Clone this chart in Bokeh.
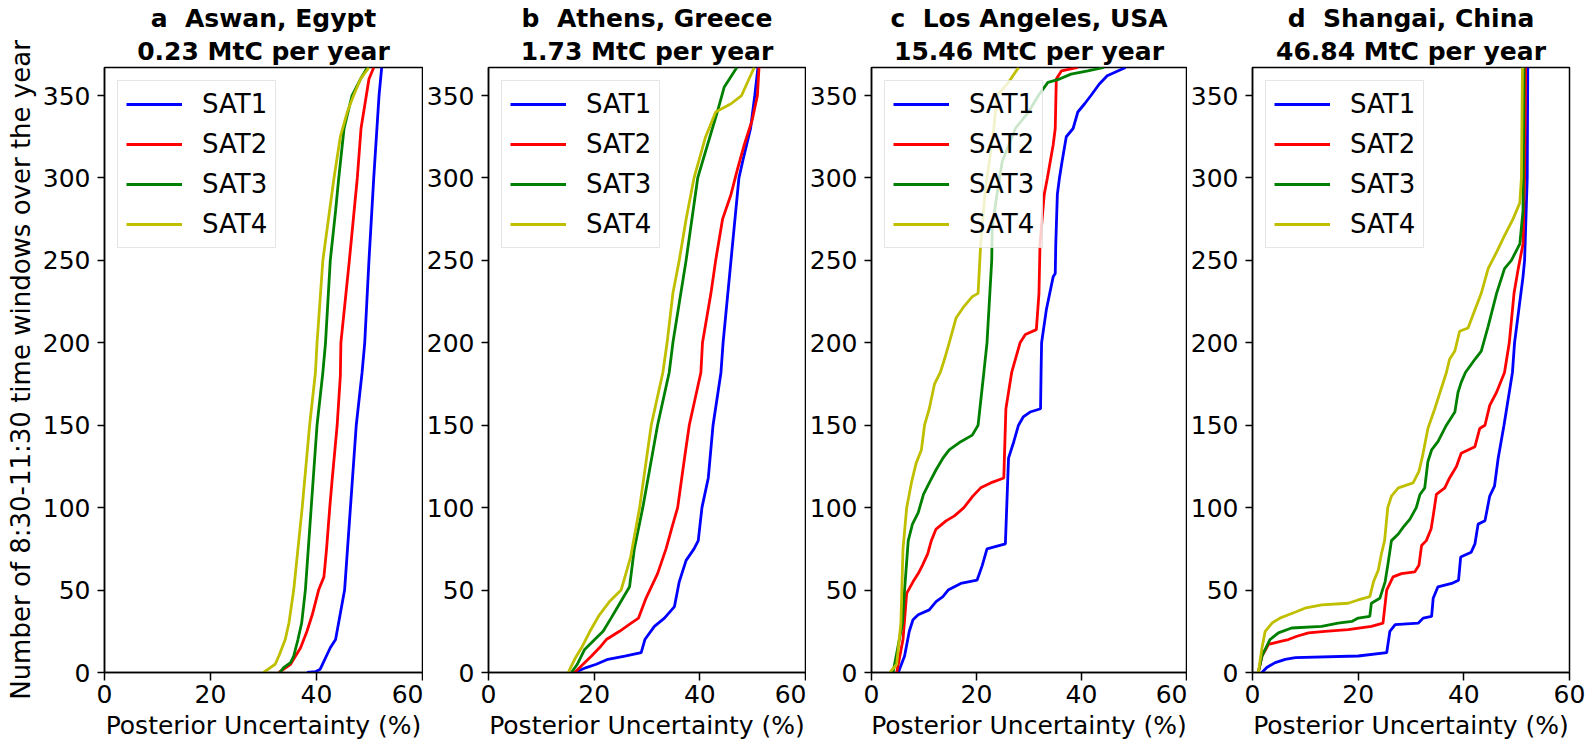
from bokeh.plotting import figure
from bokeh.layouts import row
from bokeh.models import FixedTicker, Title, Range1d
from bokeh.embed import file_html
from bokeh.resources import INLINE

# ---------------- data ----------------
panel_letters = ["a", "b", "c", "d"]
city_names = ["Aswan, Egypt", "Athens, Greece", "Los Angeles, USA", "Shangai, China"]
emission_rates = ["0.23", "1.73", "15.46", "46.84"]
series_names = ["SAT1", "SAT2", "SAT3", "SAT4"]
series_colors = ["#0000ff", "#ff0000", "#008000", "#bfbf00"]
x_ticks = [0, 20, 40, 60]
y_ticks = [0, 50, 100, 150, 200, 250, 300, 350]
x_label = "Posterior Uncertainty (%)"
y_label = "Number of 8:30-11:30 time windows over the year"

# a  Aswan
aswan_sat1_x = [38.2, 39.8, 40.7, 42.6, 43.6, 45.3, 46.4, 47.5, 48.6, 49.1, 49.9, 50.8, 51.8, 52.3]
aswan_sat1_y = [0, 0.5, 2, 15, 20, 50, 100, 150, 182, 200, 250, 300, 350, 367]
aswan_sat2_x = [32.9, 35.1, 37.0, 38.2, 39.2, 40.4, 41.4, 41.9, 42.5, 42.9, 43.9, 44.5, 44.6, 46.2, 47.7, 48.4, 49.4, 49.9, 50.8]
aswan_sat2_y = [0, 5, 15, 25, 35, 50, 58, 75, 100, 115, 150, 180, 200, 250, 300, 330, 350, 360, 367]
aswan_sat3_x = [33.1, 33.8, 35.1, 35.7, 36.5, 37.2, 37.9, 39.0, 40.1, 41.2, 41.7, 42.6, 43.6, 44.2, 45.2, 46.7, 48.3, 49.6]
aswan_sat3_y = [0, 3, 6, 10, 20, 30, 50, 100, 150, 182, 200, 250, 280, 300, 330, 350, 360, 367]
aswan_sat4_x = [30.0, 31.3, 32.2, 32.9, 34.1, 34.8, 35.7, 37.3, 38.7, 39.8, 40.1, 41.2, 43.3, 44.5, 45.8, 47.0, 48.3, 49.9]
aswan_sat4_y = [0, 3, 5, 10, 20, 30, 50, 100, 150, 182, 200, 250, 300, 325, 340, 350, 360, 367]

# b  Athens
athens_sat1_x = [16.3, 18.5, 20.4, 22.6, 25.8, 28.9, 29.6, 31.4, 33.3, 35.2, 36.1, 37.4, 38.9, 39.7, 40.4, 41.6, 42.5, 44.0, 44.4, 45.9, 47.4, 48.1, 49.6, 50.4, 51.0]
athens_sat1_y = [0, 3, 5, 8, 10, 12, 20, 28, 33, 40, 55, 68, 75, 80, 100, 118, 150, 182, 200, 250, 300, 310, 330, 350, 367]
athens_sat2_x = [16.3, 17.9, 19.5, 21.0, 22.3, 24.8, 27.0, 28.4, 29.8, 32.0, 33.6, 34.9, 35.8, 37.1, 38.0, 40.2, 40.5, 42.1, 43.0, 44.3, 45.9, 47.1, 48.4, 49.9, 50.9, 51.2]
athens_sat2_y = [0, 5, 10, 15, 20, 25, 30, 33, 45, 60, 75, 90, 100, 130, 150, 182, 200, 230, 250, 275, 290, 305, 320, 335, 350, 367]
athens_sat3_x = [15.7, 16.8, 18.2, 20.1, 21.7, 23.2, 24.5, 26.7, 27.6, 29.2, 32.0, 34.2, 34.9, 37.4, 39.6, 43.3, 44.6, 47.0]
athens_sat3_y = [0, 5, 14, 20, 25, 33, 40, 52, 75, 100, 150, 182, 200, 250, 300, 340, 355, 367]
athens_sat4_x = [15.1, 16.3, 17.6, 19.2, 21.0, 22.9, 25.1, 26.9, 28.6, 30.8, 33.0, 33.8, 34.9, 36.1, 37.4, 38.9, 41.1, 43.0, 45.9, 47.9, 49.3, 50.3]
athens_sat4_y = [0, 8, 15, 25, 35, 43, 50, 70, 100, 150, 182, 200, 230, 250, 275, 300, 325, 340, 345, 350, 360, 367]

# c  Los Angeles
la_sat1_x = [5.1, 6.3, 7.2, 7.9, 8.9, 11.0, 12.3, 13.6, 14.6, 17.0, 20.1, 21.1, 22.0, 25.5, 26.1, 27.1, 28.0, 28.9, 30.2, 32.2, 32.3, 32.4, 33.3, 34.6, 35.0, 35.1, 35.4, 35.8, 36.3, 37.1, 38.4, 39.3, 40.6, 41.8, 43.4, 44.9, 48.4]
la_sat1_y = [0, 10, 25, 32, 35, 38, 43, 46, 50, 54, 56, 65, 75, 78, 130, 140, 150, 155, 158, 160, 182, 200, 220, 240, 242, 260, 290, 300, 310, 325, 330, 340, 345, 350, 357, 362, 367]
la_sat2_x = [4.8, 6.0, 6.7, 7.9, 8.9, 9.7, 10.7, 11.4, 12.3, 14.2, 15.8, 17.6, 19.3, 20.8, 22.7, 25.2, 25.6, 26.1, 26.7, 27.4, 28.3, 29.3, 31.4, 31.9, 32.1, 32.9, 33.5, 34.6, 35.0, 35.2, 36.2, 39.3]
la_sat2_y = [0, 20, 48, 55, 60, 65, 72, 80, 87, 92, 95, 100, 107, 112, 115, 118, 160, 170, 182, 190, 200, 205, 208, 230, 260, 290, 300, 320, 330, 360, 365, 367]
la_sat3_x = [4.1, 5.9, 6.3, 7.0, 7.8, 8.9, 9.9, 11.0, 12.3, 13.6, 14.8, 17.0, 19.2, 20.3, 21.4, 22.0, 22.9, 23.0, 23.9, 24.9, 27.4, 29.9, 31.8, 33.6, 35.8, 38.0, 41.2, 44.3]
la_sat3_y = [0, 30, 50, 80, 90, 97, 108, 115, 123, 130, 135, 140, 144, 150, 182, 200, 250, 270, 290, 310, 330, 340, 350, 358, 360, 363, 365, 367]
la_sat4_x = [3.5, 4.8, 5.6, 6.0, 6.7, 7.6, 8.5, 9.5, 10.1, 11.0, 12.0, 13.1, 13.9, 14.8, 16.1, 17.6, 19.2, 20.3, 20.8, 21.6, 22.0, 23.3, 23.9, 26.1, 28.0]
la_sat4_y = [0, 5, 30, 75, 100, 115, 127, 135, 150, 160, 175, 182, 190, 200, 215, 222, 228, 230, 260, 290, 300, 330, 350, 358, 367]

# d  Shanghai
sh_sat1_x = [1.8, 2.7, 4.3, 6.2, 8.1, 20.0, 25.4, 26.0, 27.0, 31.4, 32.3, 33.9, 34.2, 35.1, 37.7, 39.0, 39.4, 41.4, 42.1, 42.7, 44.0, 44.9, 45.8, 46.5, 47.6, 49.2, 49.6, 50.4, 51.2, 51.5, 52.0, 52.1]
sh_sat1_y = [0, 3, 6, 8, 9, 10, 12, 25, 29, 30, 33, 34, 45, 52, 54, 56, 70, 73, 78, 90, 92, 107, 113, 130, 150, 182, 200, 220, 240, 250, 300, 367]
sh_sat2_x = [1.1, 1.8, 3.0, 5.5, 6.8, 8.4, 10.6, 13.7, 18.1, 22.5, 24.7, 25.4, 26.6, 28.2, 30.7, 31.5, 32.0, 32.9, 33.8, 34.2, 34.8, 36.4, 37.3, 38.6, 39.5, 42.1, 43.0, 44.0, 44.9, 46.2, 47.7, 48.6, 49.5, 50.3, 51.2, 51.5, 51.7]
sh_sat2_y = [0, 10, 17, 19, 20, 22, 24, 25, 26, 28, 30, 50, 58, 60, 61, 65, 77, 80, 87, 95, 108, 112, 118, 125, 133, 137, 148, 150, 162, 170, 182, 200, 230, 245, 260, 300, 367]
sh_sat3_x = [1.1, 1.8, 3.3, 4.9, 7.4, 13.1, 16.2, 18.8, 20.0, 22.2, 22.5, 24.1, 25.1, 25.6, 26.3, 27.6, 28.5, 29.8, 31.0, 31.7, 32.6, 33.2, 33.9, 35.1, 36.7, 38.3, 38.9, 39.5, 40.3, 42.1, 43.3, 44.6, 46.2, 47.7, 49.0, 50.6, 51.2, 51.4]
sh_sat3_y = [0, 10, 20, 24, 27, 28, 30, 31, 33, 34, 42, 45, 55, 65, 80, 84, 88, 93, 100, 108, 112, 128, 135, 140, 150, 158, 170, 176, 182, 190, 195, 210, 230, 245, 250, 260, 280, 367]
sh_sat4_x = [1.1, 1.8, 2.4, 3.7, 5.2, 6.8, 8.4, 9.9, 13.1, 18.1, 20.0, 22.2, 22.9, 23.8, 24.4, 25.0, 25.6, 26.3, 27.6, 30.4, 31.5, 32.1, 33.2, 34.5, 35.5, 36.7, 37.3, 38.3, 39.2, 40.8, 42.1, 43.3, 44.6, 46.2, 47.7, 49.3, 50.6, 50.9, 51.1]
sh_sat4_y = [0, 15, 25, 30, 33, 35, 37, 39, 41, 42, 44, 46, 55, 62, 72, 80, 100, 107, 112, 115, 122, 130, 148, 160, 170, 182, 190, 195, 207, 209, 220, 230, 245, 255, 265, 275, 285, 300, 367]

panel_curves = [
    [(aswan_sat1_x, aswan_sat1_y), (aswan_sat2_x, aswan_sat2_y), (aswan_sat3_x, aswan_sat3_y), (aswan_sat4_x, aswan_sat4_y)],
    [(athens_sat1_x, athens_sat1_y), (athens_sat2_x, athens_sat2_y), (athens_sat3_x, athens_sat3_y), (athens_sat4_x, athens_sat4_y)],
    [(la_sat1_x, la_sat1_y), (la_sat2_x, la_sat2_y), (la_sat3_x, la_sat3_y), (la_sat4_x, la_sat4_y)],
    [(sh_sat1_x, sh_sat1_y), (sh_sat2_x, sh_sat2_y), (sh_sat3_x, sh_sat3_y), (sh_sat4_x, sh_sat4_y)],
]

# ---------------- layout ----------------
FONT = "DejaVu Sans"
FRAME_W = 318
FRAME_H = 605
TOP = 67
BOTTOM = 80
left_borders = [104, 64, 62, 64]
right_borders = [1, 1, 1, 16]

panels = []
for i in range(4):
    lb, rb = left_borders[i], right_borders[i]
    p = figure(width=lb + FRAME_W + rb, height=TOP + FRAME_H + BOTTOM,
               output_backend="svg", toolbar_location=None, title=None,
               x_range=Range1d(0, 60), y_range=Range1d(0, 367),
               min_border_left=lb, min_border_right=rb,
               min_border_top=TOP, min_border_bottom=BOTTOM)
    p.background_fill_color = "white"
    p.border_fill_color = "white"
    p.outline_line_color = "black"
    p.outline_line_width = 1.5
    p.grid.visible = False

    # second title line first (closest to the frame), then the first line above it
    t2 = Title(text=f"{emission_rates[i]} MtC per year", align="center",
               text_font=FONT, text_font_size="25px", text_font_style="bold",
               text_color="black", standoff=4)
    p.add_layout(t2, "above")
    t1 = Title(text=f"{panel_letters[i]}\u00a0\u00a0{city_names[i]}", align="center",
               text_font=FONT, text_font_size="25px", text_font_style="bold",
               text_color="black", standoff=0)
    p.add_layout(t1, "above")

    for (xs, ys), name, col in zip(panel_curves[i], series_names, series_colors):
        p.line(xs, ys, line_color=col, line_width=2.8, legend_label=name)

    for ax in (p.xaxis[0], p.yaxis[0]):
        ax.axis_line_color = "black"
        ax.axis_line_width = 1.5
        ax.major_tick_line_color = "black"
        ax.major_tick_line_width = 1.5
        ax.major_tick_in = 0
        ax.minor_tick_line_color = None
        ax.major_label_text_font = FONT
        ax.major_label_text_font_size = "25px"
        ax.major_label_text_color = "black"
        ax.axis_label_text_font = FONT
        ax.axis_label_text_font_style = "normal"
        ax.axis_label_text_color = "black"
    p.xaxis.ticker = FixedTicker(ticks=x_ticks)
    p.yaxis.ticker = FixedTicker(ticks=y_ticks)
    p.xaxis.major_tick_out = 8
    p.yaxis.major_tick_out = 7
    p.xaxis.major_label_standoff = 4
    p.yaxis.major_label_standoff = 7
    p.xaxis.axis_label = x_label
    p.xaxis.axis_label_text_font_size = "25px"
    p.xaxis.axis_label_standoff = 5
    if i == 0:
        p.yaxis.axis_label = y_label
        p.yaxis.axis_label_text_font_size = "26px"
        p.yaxis.axis_label_standoff = 4

    lg = p.legend[0]
    lg.location = "top_left"
    lg.margin = 13
    lg.padding = 8
    lg.spacing = 10
    lg.glyph_width = 56
    lg.glyph_height = 20
    lg.label_standoff = 20
    lg.label_text_font = FONT
    lg.label_text_font_size = "26px"
    lg.label_text_color = "black"
    lg.border_line_color = "#cccccc"
    lg.border_line_width = 1.2
    lg.background_fill_color = "white"
    lg.background_fill_alpha = 0.8
    panels.append(p)

layout = row(*panels, spacing=0)
open("out.html", "w").write(file_html(layout, INLINE))
